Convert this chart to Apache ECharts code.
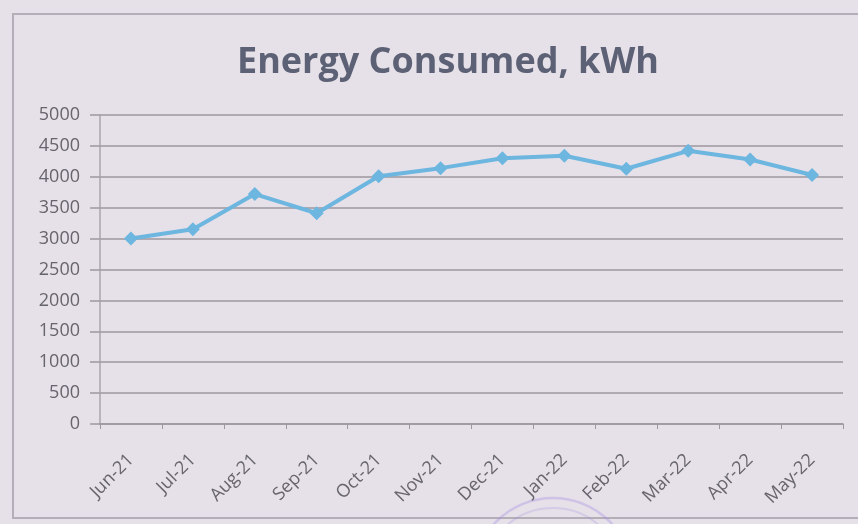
<!DOCTYPE html>
<html>
<head>
<meta charset="utf-8">
<script src="https://cdn.jsdelivr.net/npm/echarts@6/dist/echarts.min.js"></script>
<style>
  html, body { margin: 0; padding: 0; background: #e6e0e8; }
  #chart { width: 858px; height: 524px; }
</style>
</head>
<body>
<div id="chart"></div>
<script>
// Monthly energy consumption, June 2021 – May 2022
const months = ['Jun-21', 'Jul-21', 'Aug-21', 'Sep-21', 'Oct-21', 'Nov-21',
                'Dec-21', 'Jan-22', 'Feb-22', 'Mar-22', 'Apr-22', 'May-22'];
const energyKWh = [3000, 3150, 3720, 3410, 4010, 4140, 4300, 4340, 4130, 4420, 4280, 4030];
const yMin = 0;
const yMax = 5000;
const yStep = 500;

const chart = echarts.init(document.getElementById('chart'), null, { renderer: 'canvas' });

chart.setOption({
  backgroundColor: '#e6e0e8',
  animation: false,
  title: {
    text: 'Energy Consumed, kWh',
    left: 232,
    top: 40,
    textStyle: {
      fontFamily: 'Open Sans',
      fontWeight: 'bold',
      fontSize: 36,
      color: '#5c6176'
    }
  },
  grid: { left: 100, right: 15, top: 115, bottom: 100 },
  xAxis: {
    type: 'category',
    data: months,
    boundaryGap: true,
    axisLine: { lineStyle: { color: '#9c97a0', width: 1.5 } },
    axisTick: { show: true, length: 5, lineStyle: { color: '#9c97a0' } },
    axisLabel: {
      rotate: 45,
      margin: 33,
      fontFamily: 'Open Sans',
      fontSize: 18,
      color: '#66646c'
    }
  },
  yAxis: {
    type: 'value',
    min: yMin,
    max: yMax,
    interval: yStep,
    axisLine: { show: true, lineStyle: { color: '#aaa5ae', width: 1.5 } },
    axisTick: { show: true, length: 10, lineStyle: { color: '#9c97a0', width: 1.5 } },
    splitLine: { lineStyle: { color: '#9c97a0', width: 1.5 } },
    axisLabel: {
      margin: 20,
      formatter: (v) => String(v),
      fontFamily: 'Open Sans',
      fontSize: 18,
      color: '#66646c'
    }
  },
  series: [{
    type: 'line',
    data: energyKWh,
    symbol: 'diamond',
    symbolSize: 14,
    itemStyle: { color: '#6cb6e0' },
    lineStyle: { color: '#6cb6e0', width: 4 }
  }],
  graphic: [
    {
      type: 'rect',
      shape: { x: 13, y: 14, width: 860, height: 504 },
      style: { fill: null, stroke: '#b4aeb8', lineWidth: 2 }
    },
    {
      type: 'circle',
      shape: { cx: 553, cy: 578, r: 80 },
      style: { fill: null, stroke: 'rgba(160,140,225,0.35)', lineWidth: 2.5 }
    },
    {
      type: 'circle',
      shape: { cx: 553, cy: 578, r: 70 },
      style: { fill: null, stroke: 'rgba(160,140,225,0.25)', lineWidth: 2 }
    }
  ]
});
</script>
</body>
</html>
